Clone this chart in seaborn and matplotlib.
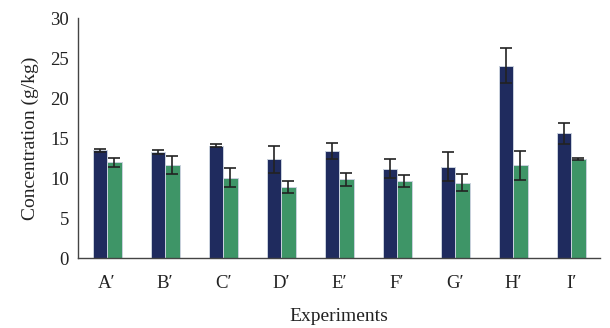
import matplotlib
matplotlib.use("Agg")
import matplotlib.pyplot as plt
import seaborn as sns
import pandas as pd
import numpy as np

categories = ["A\u2032", "B\u2032", "C\u2032", "D\u2032", "E\u2032", "F\u2032", "G\u2032", "H\u2032", "I\u2032"]
series_names = ["S1", "S2"]
s1_values = [13.45, 13.25, 14.05, 12.35, 13.35, 11.2, 11.4, 24.05, 15.6]
s1_errors = [0.15, 0.2, 0.15, 1.65, 1.0, 1.2, 1.8, 2.15, 1.3]
s2_values = [11.95, 11.6, 10.05, 8.9, 9.85, 9.7, 9.45, 11.6, 12.4]
s2_errors = [0.55, 1.1, 1.2, 0.75, 0.85, 0.75, 1.05, 1.8, 0.15]
colors = ["#1f2b5e", "#3e9567"]

df = pd.DataFrame({
    "Experiment": categories * 2,
    "Series": [series_names[0]] * len(categories) + [series_names[1]] * len(categories),
    "Value": s1_values + s2_values,
})

sns.set_style("white")
plt.rcParams["font.family"] = ["Liberation Serif", "DejaVu Serif"]

fig = plt.figure(figsize=(6.1, 3.28), dpi=100)
ax = fig.add_axes([0.128, 0.213, 0.856, 0.732])

sns.barplot(data=df, x="Experiment", y="Value", hue="Series", palette=colors,
            width=0.5, ax=ax, edgecolor="#c9d1dd", linewidth=0.7, legend=False,
            saturation=1)

errs = s1_errors + s2_errors
vals = s1_values + s2_values
patches = [p for p in ax.patches]
xs = [p.get_x() + p.get_width() / 2 for p in patches]
ax.errorbar(xs, vals, yerr=errs, fmt="none", ecolor="#222222", elinewidth=1.2,
            capsize=4, capthick=1.2, zorder=5)

ax.set_ylim(0, 30)
ax.set_yticks([0, 5, 10, 15, 20, 25, 30])
ax.set_xlim(-0.5, 8.5)
ax.set_ylabel("Concentration (g/kg)", fontsize=14, color="#222222", labelpad=8)
ax.set_xlabel("Experiments", fontsize=14, color="#222222", labelpad=12)
ax.tick_params(axis="y", labelsize=13.5, colors="#222222", length=0, pad=6.5)
ax.tick_params(axis="x", labelsize=13.5, colors="#222222", length=0, pad=12)
for s in ["top", "right"]:
    ax.spines[s].set_visible(False)
for s in ["left", "bottom"]:
    ax.spines[s].set_color("#444444")
    ax.spines[s].set_linewidth(1.0)

fig.savefig("out.png", dpi=100)
